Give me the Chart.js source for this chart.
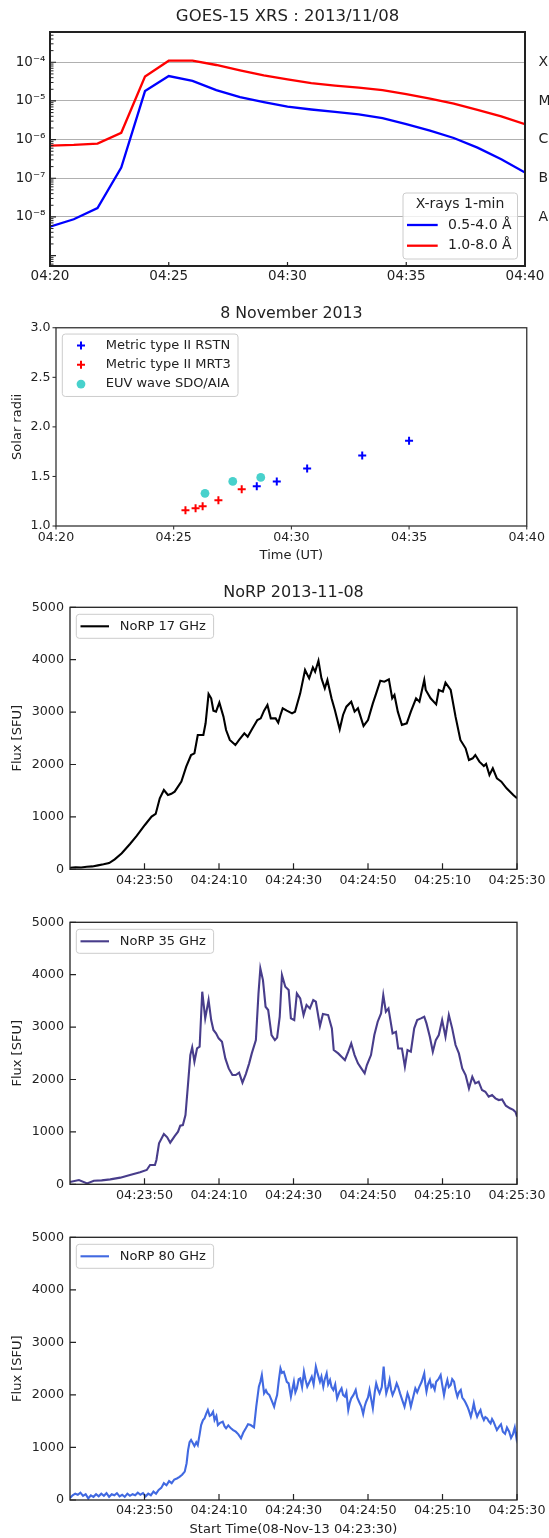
<!DOCTYPE html>
<html><head><meta charset="utf-8">
<script src="https://cdn.jsdelivr.net/npm/chart.js@4.4.1/dist/chart.umd.min.js"></script>
<style>
html,body{margin:0;padding:0;background:#fff;}
#wrap{position:relative;width:549px;height:1538px;overflow:hidden;background:#fff;}
canvas{position:absolute;left:0;}
</style></head><body>
<div id="wrap">
<canvas id="c1" width="549" height="295" style="top:0px"></canvas>
<canvas id="c2" width="549" height="280" style="top:295px"></canvas>
<canvas id="c3" width="549" height="315" style="top:575px"></canvas>
<canvas id="c4" width="549" height="315" style="top:890px"></canvas>
<canvas id="c5" width="549" height="333" style="top:1205px"></canvas>
</div>
<script>
// ---------------- DATA ----------------
// GOES-15 XRS 1-min fluxes (W/m^2), 04:20 .. 04:40
const goesStart = [4, 20];            // hh, mm
const goesShort = [5.6e-9, 8.7e-9, 1.7e-8, 1.9e-7, 1.8e-5, 4.4e-5, 3.3e-5, 1.9e-5, 1.25e-5, 9.3e-6, 7.1e-6,
                   6.0e-6, 5.2e-6, 4.5e-6, 3.6e-6, 2.5e-6, 1.7e-6, 1.1e-6, 6.2e-7, 3.1e-7, 1.4e-7];
const goesLong  = [7.0e-7, 7.3e-7, 7.9e-7, 1.5e-6, 4.3e-5, 1.1e-4, 1.1e-4, 8.5e-5, 6.2e-5, 4.6e-5, 3.6e-5,
                   2.9e-5, 2.5e-5, 2.2e-5, 1.9e-5, 1.5e-5, 1.15e-5, 8.5e-6, 5.9e-6, 4.0e-6, 2.5e-6];
const goesDecades = [1e-8, 1e-7, 1e-6, 1e-5, 1e-4];
const goesClasses = ['A', 'B', 'C', 'M', 'X'];
const goesTimeTicks = [0, 5, 10, 15, 20];   // minutes after 04:20

// Type II / EUV heights (minutes after 04:20, solar radii)
const rstnMin = [8.53, 9.38, 10.67, 13.01, 15.0];
const rstnRad = [1.40, 1.45, 1.58, 1.71, 1.86];
const mrt3Min = [5.50, 5.93, 6.23, 6.90, 7.89];
const mrt3Rad = [1.16, 1.18, 1.20, 1.26, 1.37];
const euvMin  = [6.33, 7.51, 8.70];
const euvRad  = [1.33, 1.45, 1.49];
const radiiTicks = [1.0, 1.5, 2.0, 2.5, 3.0];

// NoRP (seconds after 04:23:30, SFU)
const norpStart = [4, 23, 30];
const norpTimeTicks = [20, 40, 60, 80, 100, 120];
const norpFluxTicks = [0, 1000, 2000, 3000, 4000, 5000];
const t17 = [0,1.5,3,4.5,6,7.5,9,10.5,12,13.9,16.1,17.9,20.1,21.9,23,24.1,25.2,26.3,27.2,28.1,29.9,31.2,32.5,33.4,34.3,35.8,36.4,37.2,37.9,38.5,39.2,40.1,41.2,41.9,42.9,44.4,45.4,46.8,47.7,49,50.3,51.2,52.1,53,53.9,55.2,55.9,56.5,57.1,58.2,59.6,60.4,61.8,63.1,64.2,65.2,65.8,66.7,67.5,68.4,69.1,70.2,71.1,72.4,73.3,74.2,75.5,76.4,77.3,78.8,80,81.3,82.2,83.3,84.4,85.6,86.5,87.1,88,89.1,90.4,91.5,92.9,93.8,94.5,95.1,95.5,96.8,98.3,99,100.1,100.8,102.2,103.5,104.8,106.2,107.1,108.1,108.8,109.9,111.1,111.7,112.6,113.5,114.6,115.2,115.8,117.2,119,120];
const f17 = [30,40,35,50,55,75,95,120,190,305,483,636,846,1005,1056,1355,1514,1418,1440,1482,1673,1959,2181,2213,2563,2563,2786,3345,3263,3027,3008,3180,2913,2658,2468,2372,2468,2595,2531,2690,2849,2881,3027,3135,2881,2881,2798,2945,3072,3027,2976,3008,3358,3803,3644,3854,3771,3981,3644,3453,3612,3263,3040,2671,2945,3104,3199,3008,3072,2735,2849,3167,3358,3600,3581,3625,3263,3326,3008,2754,2786,3008,3263,3199,3422,3612,3422,3263,3148,3422,3390,3562,3422,2913,2468,2309,2086,2118,2181,2054,1972,2010,1800,1927,1736,1704,1672,1546,1418,1355];
const t35 = [0,0.3,2.4,4.6,6.4,8.5,10.8,13.5,16.1,18.8,20.6,21.5,22.8,23.2,23.9,25.2,26.1,26.9,28.1,29,29.6,30.3,31,31.7,32.3,32.8,33.4,34.1,34.8,35.5,36.3,37.2,37.9,38.5,39.2,39.9,40.8,41.7,42.6,43.6,44.5,45.4,46.3,47.2,48.1,48.8,49.9,50.6,51.1,51.8,52.5,53.2,54.1,55,55.6,56.3,56.9,57.8,58.7,59.3,60.2,60.9,61.8,62.7,63.5,64.4,65.3,66,67.1,67.9,69.3,70.3,70.8,72,72.9,73.8,74.7,75.5,76.4,77.3,78.2,79.1,79.7,80.8,81.7,82.6,83.5,84.1,84.8,85.5,86.6,87.5,88.1,89.1,89.9,90.6,91.5,92.4,93.2,94.2,95.1,95.7,96.6,97.4,98.2,99,99.9,100.8,101.7,102.6,103.5,104.4,105.3,106.2,107.1,108,108.8,109.7,110.6,111.5,112.4,113.3,114.2,115.1,116,117,118.1,119,119.6,120];
const f35 = [50,50,82,18,69,75,94,127,178,229,273,368,368,464,782,960,896,794,921,1004,1118,1131,1323,1925,2466,2612,2339,2593,2625,3676,3167,3516,3135,2945,2881,2785,2721,2403,2212,2085,2085,2130,1939,2104,2308,2498,2752,3643,4120,3898,3389,3326,2848,2752,2800,3198,3993,3770,3707,3167,3135,3643,3548,3230,3421,3357,3516,3484,3020,3249,3230,2976,2563,2498,2435,2371,2530,2689,2466,2308,2212,2117,2276,2466,2848,3103,3262,3612,3294,3357,2881,2912,2593,2593,2244,2562,2530,2976,3135,3167,3198,3071,2817,2530,2752,2848,3135,2817,3230,2976,2657,2498,2212,2085,1831,2053,1926,1958,1799,1767,1672,1704,1640,1608,1620,1500,1450,1420,1380,1290];
const t80 = [0,0.7,1.4,2.1,2.8,3.5,4.2,4.9,5.6,6.3,7,7.7,8.4,9.1,9.8,10.5,11.2,11.9,12.6,13.3,14,14.7,15.4,16.1,16.8,17.5,18.2,18.9,19.6,20.3,21,21.7,22.4,23.1,23.8,24.5,25.2,25.9,26.6,27.3,28,28.7,29.4,30.1,30.8,31.3,31.7,32.1,32.5,33,33.4,33.9,34.3,34.8,35.2,35.7,36.1,36.6,37,37.5,37.9,38.4,38.8,39.3,39.7,40.3,41,41.5,41.9,42.5,43.2,43.8,44.5,45.2,45.9,46.5,47.2,47.8,48.5,49.4,50,50.7,51.1,51.5,52.1,52.6,53,53.5,53.9,54.4,54.8,55.2,55.6,56.1,56.5,56.9,57.4,57.8,58.2,58.7,59.3,60.1,60.5,60.9,61.4,61.8,62.3,62.8,63.2,63.7,64.3,64.9,65.4,66,66.5,67.1,67.5,68,68.4,68.9,69.3,69.8,70.2,70.7,71.2,71.7,72.3,72.9,73.3,73.8,74.2,74.7,75.1,75.5,76.1,76.7,77.1,77.6,78.2,78.7,79.1,79.5,80,80.4,80.9,81.3,81.8,82.2,82.7,83.1,83.7,84.2,84.6,84.9,85.4,85.8,86.2,86.6,87.2,87.7,88.1,88.6,89.2,89.8,90.2,90.6,91,91.5,92.1,92.7,93.2,93.8,94.4,95.1,95.4,95.7,96.1,96.6,97,97.4,97.9,98.3,98.9,99.5,99.9,100.4,100.8,101.3,101.7,102.2,102.6,103.1,103.5,104,104.4,104.9,105.3,105.8,106.2,106.7,107.1,107.6,108,108.4,108.8,109.3,109.7,110.2,110.6,111.1,111.5,112,112.4,112.9,113.3,113.7,114.2,114.6,115.2,115.7,116.2,116.8,117.3,117.9,118.4,118.9,119.4,119.8,120];
const f80 = [40,90,120,100,140,80,110,30,90,60,110,70,120,80,130,60,110,90,130,70,100,60,120,80,110,90,140,100,130,70,120,90,160,120,190,230,320,280,360,320,390,410,440,480,540,700,950,1100,1142,1080,1028,1100,1047,1250,1427,1520,1554,1650,1713,1600,1618,1680,1523,1600,1427,1470,1491,1400,1364,1420,1364,1330,1300,1250,1174,1280,1364,1440,1427,1383,1776,2157,2250,2379,2030,2090,2030,2000,1935,1850,1776,1900,1998,2300,2506,2420,2440,2347,2250,2220,1967,2252,2050,2125,2300,2316,2150,2442,2300,2157,2250,2347,2200,2538,2400,2252,2350,2157,2300,2411,2200,2284,2150,2094,2200,1935,2050,2125,2000,1967,2050,1713,1850,1935,2000,2094,1950,1871,1780,1637,1780,1871,1950,2094,1900,1745,2050,2220,2100,2030,2150,2538,2200,2030,2150,2284,2100,1998,2100,2220,2150,2030,1900,1776,1900,2030,1950,1776,1950,2125,2050,2157,2250,2411,2200,2062,2200,2284,2150,2189,2100,2252,2300,2379,2200,1998,2150,2284,2150,2189,2300,2252,2100,1967,2050,2094,1950,1903,1850,1776,1700,1586,1700,1840,1700,1586,1650,1713,1600,1523,1580,1554,1500,1459,1540,1491,1400,1332,1396,1440,1300,1260,1380,1300,1180,1250,1380,1200,1300];

// ---------------- HELPERS ----------------
Chart.defaults.font.family = '"DejaVu Sans", sans-serif';
Chart.defaults.color = '#222';
const TXT = '#222';
const pad2 = n => String(n).padStart(2, '0');
function clockLabel(base, addSec, withSec) {
  let s = base[0] * 3600 + base[1] * 60 + (base[2] || 0) + Math.round(addSec);
  const h = Math.floor(s / 3600), m = Math.floor((s % 3600) / 60), sec = s % 60;
  return pad2(h) + ':' + pad2(m) + (withSec ? ':' + pad2(sec) : '');
}
const SUP = {'-': '\u207B', '0': '\u2070', '1': '\u00B9', '2': '\u00B2', '3': '\u00B3', '4': '\u2074', '5': '\u2075', '6': '\u2076', '7': '\u2077', '8': '\u2078', '9': '\u2079'};
const sup = s => String(s).split('').map(c => SUP[c]).join('');
const fixTicks = vals => scale => { scale.ticks = vals.map(v => ({value: v})); };
const zip = (xs, ys) => xs.map((x, i) => ({x: x, y: ys[i]}));

const axisMarks = {
  id: 'axisMarks',
  afterDatasetsDraw(chart, args, o) {
    const ctx = chart.ctx, a = chart.chartArea;
    ctx.save();
    ctx.strokeStyle = o.color || '#222';
    (o.marks || []).forEach(m => {
      const sc = chart.scales[m.axis];
      ctx.lineWidth = m.width || 1;
      ctx.beginPath();
      m.values.forEach(v => {
        const p = sc.getPixelForValue(v);
        if (m.axis[0] === 'x') {
          if (p < a.left - 0.5 || p > a.right + 0.5) return;
          const y0 = a.bottom, y1 = m.dir === 'in' ? y0 - m.len : y0 + m.len;
          ctx.moveTo(p, y0); ctx.lineTo(p, y1);
        } else {
          if (p < a.top - 0.5 || p > a.bottom + 0.5) return;
          const x0 = a.left, x1 = m.dir === 'in' ? x0 + m.len : x0 - m.len;
          ctx.moveTo(x0, p); ctx.lineTo(x1, p);
        }
      });
      ctx.stroke();
    });
    ctx.lineWidth = o.frameWidth || 1.2;
    ctx.strokeStyle = o.frameColor || '#222';
    ctx.strokeRect(a.left, a.top, a.right - a.left, a.bottom - a.top);
    ctx.restore();
  }
};

const boxLegend = {
  id: 'boxLegend',
  afterDraw(chart, args, o) {
    if (!o || !o.rows) return;
    const ctx = chart.ctx, a = chart.chartArea;
    const X = a.left + o.x, Y = a.top + o.y;
    ctx.save();
    ctx.beginPath();
    ctx.roundRect(X, Y, o.w, o.h, 3);
    ctx.fillStyle = 'rgba(255,255,255,0.8)';
    ctx.fill();
    ctx.strokeStyle = '#cccccc'; ctx.lineWidth = 1; ctx.stroke();
    ctx.font = o.size + 'px "DejaVu Sans"';
    ctx.textBaseline = 'middle';
    ctx.fillStyle = TXT;
    if (o.title) { ctx.textAlign = 'center'; ctx.fillText(o.title, X + o.titleX, Y + o.titleY); }
    ctx.textAlign = 'left';
    o.rows.forEach((r, i) => {
      const ds = chart.data.datasets[i];
      const y = Y + r;
      if (o.kind === 'line') {
        ctx.strokeStyle = ds.borderColor; ctx.lineWidth = ds.borderWidth;
        ctx.beginPath(); ctx.moveTo(X + o.sx0, y); ctx.lineTo(X + o.sx1, y); ctx.stroke();
      } else {
        const mx = X + o.mx, r0 = ds.pointRadius;
        if (ds.pointStyle === 'cross') {
          ctx.strokeStyle = ds.borderColor; ctx.lineWidth = ds.borderWidth;
          ctx.beginPath();
          ctx.moveTo(mx - r0, y); ctx.lineTo(mx + r0, y);
          ctx.moveTo(mx, y - r0); ctx.lineTo(mx, y + r0);
          ctx.stroke();
        } else {
          ctx.fillStyle = ds.backgroundColor;
          ctx.beginPath(); ctx.arc(mx, y, r0, 0, Math.PI * 2); ctx.fill();
        }
      }
      ctx.fillStyle = TXT;
      ctx.fillText(ds.label, X + o.tx, y);
    });
    ctx.restore();
  }
};

const baseOpts = {
  responsive: false, animation: false, devicePixelRatio: 1, events: [],
};

// ---------------- PANEL 1: GOES ----------------
const goesMinorTicks = [];
for (let e = -10; e <= -3; e++) for (let k = 2; k <= 9; k++) goesMinorTicks.push(k * Math.pow(10, e));
const goesMajorTicks = [1e-9, 1e-8, 1e-7, 1e-6, 1e-5, 1e-4, 1e-3];
const GMIN = Math.pow(10, -9.27), GMAX = Math.pow(10, -3.217);
const goesX = goesShort.map((v, i) => i);

new Chart(document.getElementById('c1'), {
  type: 'line',
  data: {
    datasets: [
      {label: '0.5-4.0 \u00C5', data: zip(goesX, goesShort), borderColor: '#0000ff', borderWidth: 2.3, pointRadius: 0, tension: 0},
      {label: '1.0-8.0 \u00C5', data: zip(goesX, goesLong), borderColor: '#ff0000', borderWidth: 2.3, pointRadius: 0, tension: 0}
    ]
  },
  options: Object.assign({}, baseOpts, {
    layout: {padding: {top: 0, left: 0, right: 0, bottom: 0}},
    scales: {
      x: {type: 'linear', min: 0, max: 20, afterBuildTicks: fixTicks(goesTimeTicks),
          ticks: {autoSkip: false, maxRotation: 0, padding: 2.6, font: {size: 13.5}, color: TXT,
                  callback: v => clockLabel(goesStart, v * 60, false)},
          grid: {display: false, drawTicks: false}, border: {display: false},
          afterFit: s => { s.height = 29; }},
      y: {type: 'logarithmic', min: GMIN, max: GMAX, afterBuildTicks: fixTicks(goesDecades),
          ticks: {autoSkip: false, padding: 4.5, font: {size: 13.5}, color: TXT,
                  callback: v => '10' + sup(Math.round(Math.log10(v)))},
          grid: {color: '#b0b0b0', lineWidth: 1, drawTicks: false}, border: {display: false},
          afterFit: s => { s.width = 50; }},
      y2: {type: 'logarithmic', position: 'right', min: GMIN, max: GMAX, afterBuildTicks: fixTicks(goesDecades),
          ticks: {autoSkip: false, padding: 13.5, font: {size: 14}, color: TXT,
                  callback: v => goesClasses[goesDecades.findIndex(d => Math.abs(Math.log10(d / v)) < 0.01)]},
          grid: {display: false, drawTicks: false}, border: {display: false},
          afterFit: s => { s.width = 24; }}
    },
    plugins: {
      legend: {display: false}, tooltip: {enabled: false},
      title: {display: true, text: 'GOES-15 XRS : 2013/11/08', fullSize: false, color: TXT,
              font: {size: 16.5, weight: 'normal'}, padding: {top: 6.8, bottom: 5.4}},
      axisMarks: {frameWidth: 2, color: '#222', frameColor: '#222', marks: [
        {axis: 'y', values: goesMajorTicks, len: 6, dir: 'in', width: 1.2},
        {axis: 'y', values: goesMinorTicks, len: 3.5, dir: 'in', width: 1},
        {axis: 'x', values: goesTimeTicks, len: 4, dir: 'in', width: 1.2}
      ]},
      boxLegend: {x: 353, y: 161, w: 114.5, h: 66, size: 14, kind: 'line',
                  title: 'X-rays 1-min', titleX: 57, titleY: 11.5,
                  rows: [32, 52.7], sx0: 4, sx1: 34.7, tx: 45}
    }
  }),
  plugins: [axisMarks, boxLegend]
});

// ---------------- PANEL 2: heights ----------------
new Chart(document.getElementById('c2'), {
  type: 'scatter',
  data: {
    datasets: [
      {label: 'Metric type II RSTN', data: zip(rstnMin, rstnRad), pointStyle: 'cross', pointRadius: 4, borderWidth: 2, borderColor: '#0000ff', backgroundColor: '#0000ff'},
      {label: 'Metric type II MRT3', data: zip(mrt3Min, mrt3Rad), pointStyle: 'cross', pointRadius: 4, borderWidth: 2, borderColor: '#ff0000', backgroundColor: '#ff0000'},
      {label: 'EUV wave SDO/AIA', data: zip(euvMin, euvRad), pointStyle: 'circle', pointRadius: 4.4, borderWidth: 0, borderColor: '#48d1cc', backgroundColor: '#48d1cc'}
    ]
  },
  options: Object.assign({}, baseOpts, {
    layout: {padding: {top: 0, left: 0, right: 19, bottom: 0}},
    scales: {
      x: {type: 'linear', min: 0, max: 20, afterBuildTicks: fixTicks(goesTimeTicks),
          ticks: {autoSkip: false, maxRotation: 0, padding: 4.1, font: {size: 12.6}, color: TXT,
                  callback: v => clockLabel(goesStart, v * 60, false)},
          grid: {display: false, drawTicks: false}, border: {display: false},
          title: {display: true, text: 'Time (UT)', color: TXT, font: {size: 13}, padding: {top: 0, bottom: 11.2}},
          afterFit: s => { s.height = 49; }},
      y: {type: 'linear', min: 1, max: 3, afterBuildTicks: fixTicks(radiiTicks),
          ticks: {autoSkip: false, padding: 5.5, font: {size: 12.6}, color: TXT, callback: v => v.toFixed(1)},
          grid: {display: false, drawTicks: false}, border: {display: false},
          title: {display: true, text: 'Solar radii', color: TXT, font: {size: 13}, padding: {top: 9.7, bottom: 0}},
          afterFit: s => { s.width = 56; }}
    },
    plugins: {
      legend: {display: false}, tooltip: {enabled: false},
      title: {display: true, text: '8 November 2013', fullSize: false, color: TXT,
              font: {size: 15.8, weight: 'normal'}, padding: {top: 9.7, bottom: 4.1}},
      axisMarks: {frameWidth: 1.3, color: '#222', frameColor: '#333', marks: [
        {axis: 'y', values: radiiTicks, len: 3.5, dir: 'out', width: 1},
        {axis: 'x', values: goesTimeTicks, len: 3.5, dir: 'out', width: 1}
      ]},
      boxLegend: {x: 6.3, y: 6.3, w: 175.7, h: 62.4, size: 13, kind: 'marker',
                  rows: [11.4, 30.7, 50], mx: 18.7, tx: 43.4}
    }
  }),
  plugins: [axisMarks, boxLegend]
});

// ---------------- PANELS 3-5: NoRP ----------------
function norpChart(id, label, color, tArr, fArr, opt) {
  return new Chart(document.getElementById(id), {
    type: 'line',
    data: {datasets: [{label: label, data: zip(tArr, fArr), borderColor: color, borderWidth: 2.1, pointRadius: 0, tension: 0}]},
    options: Object.assign({}, baseOpts, {
      layout: {padding: {top: opt.padTop, left: 0, right: 28, bottom: 0}},
      scales: {
        x: {type: 'linear', min: 0, max: 120, afterBuildTicks: fixTicks(norpTimeTicks),
            ticks: {autoSkip: false, maxRotation: 0, padding: 3.5, font: {size: 12.7}, color: TXT,
                    callback: v => clockLabel(norpStart, v, true)},
            grid: {display: false, drawTicks: false}, border: {display: false},
            title: opt.xTitle ? {display: true, text: opt.xTitle, color: TXT, font: {size: 13}, padding: {top: 0, bottom: 0.2}} : {display: false},
            afterFit: s => { s.height = opt.xHeight; }},
        y: {type: 'linear', min: 0, max: 5000, afterBuildTicks: fixTicks(norpFluxTicks),
            ticks: {autoSkip: false, padding: 6, font: {size: 12.7}, color: TXT, callback: v => String(v)},
            grid: {display: false, drawTicks: false}, border: {display: false},
            title: {display: true, text: 'Flux [SFU]', color: TXT, font: {size: 13}, padding: {top: 9.7, bottom: 0}},
            afterFit: s => { s.width = 70; }}
      },
      plugins: {
        legend: {display: false}, tooltip: {enabled: false},
        title: opt.title ? {display: true, text: opt.title, fullSize: false, color: TXT,
                font: {size: 16, weight: 'normal'}, padding: {top: 8.7, bottom: 4.4}} : {display: false},
        axisMarks: {frameWidth: 1.3, color: '#222', frameColor: '#222', marks: [
          {axis: 'y', values: norpFluxTicks, len: 6, dir: 'in', width: 1.2},
          {axis: 'x', values: norpTimeTicks, len: 6, dir: 'in', width: 1.2}
        ]},
        boxLegend: {x: 6.3, y: 7, w: 137.3, h: 24, size: 13, kind: 'line',
                    rows: [12], sx0: 4.2, sx1: 32.7, tx: 43.4}
      }
    }),
    plugins: [axisMarks, boxLegend]
  });
}
norpChart('c3', 'NoRP 17 GHz', '#000000', t17, f17, {padTop: 0, xHeight: 20.7, title: 'NoRP 2013-11-08'});
norpChart('c4', 'NoRP 35 GHz', '#483d8b', t35, f35, {padTop: 32.3, xHeight: 20.7});
norpChart('c5', 'NoRP 80 GHz', '#4169e1', t80, f80, {padTop: 32.3, xHeight: 38, xTitle: 'Start Time(08-Nov-13 04:23:30)'});
</script>
</body></html>
